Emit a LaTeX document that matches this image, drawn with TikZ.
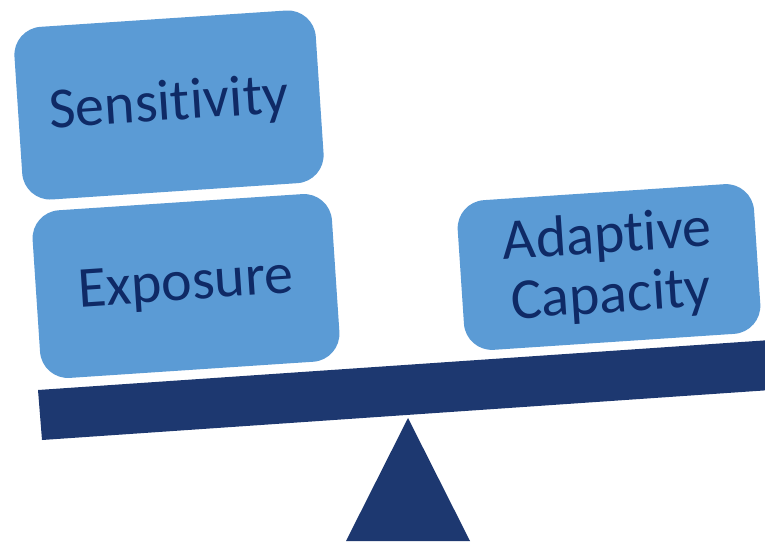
\documentclass[tikz,border=0pt]{standalone}
\usepackage{fontspec}
\setmainfont[Ligatures=NoCommon]{Carlito}
\definecolor{boxblue}{HTML}{5B9BD5}
\definecolor{navy}{HTML}{1D3870}
\definecolor{textnavy}{HTML}{0F2A66}
\begin{document}
\begin{tikzpicture}[x=1pt,y=-1pt,
  block/.style={rectangle, rounded corners=28pt, fill=boxblue, draw=none,
    inner sep=0pt, rotate=3.8, text=textnavy, align=center,
    font=\fontsize{58}{60}\selectfont}]
\useasboundingbox (0,0) rectangle (765,541);
\fill[white] (0,0) rectangle (765,541);
% beam
\fill[navy] (38,390) -- (42,440) -- (800,388) -- (800,338) -- cycle;
% fulcrum
\fill[navy] (408,418) -- (470,541) -- (346,541) -- cycle;
% boxes
\node[block, minimum width=302pt, minimum height=173pt] (sens) at (169,105) {Sensitivity};
\node[block, minimum width=300pt, minimum height=168pt] (expo) at (186,286) {Exposure};
\node[block, minimum width=297pt, minimum height=150pt] (adap) at (609,267) {Adaptive\\Capacity};
\end{tikzpicture}
\end{document}
